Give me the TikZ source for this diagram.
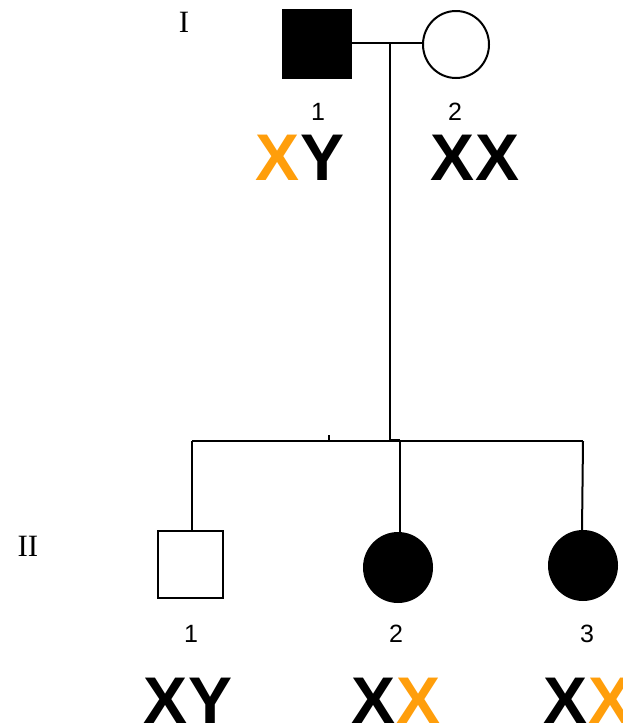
\documentclass[tikz,border=0pt]{standalone}
\usepackage{fontspec}
\setmainfont{Liberation Sans}
\newfontfamily\romanfont{Liberation Serif}
\definecolor{orangeX}{RGB}{255,158,11}
\tikzset{
  line/.style={line width=2pt, black},
  male/.style={rectangle, draw=black, line width=2pt, inner sep=0pt},
  female/.style={ellipse, draw=black, line width=2pt, inner sep=0pt},
  num/.style={inner sep=0pt, font=\fontsize{25}{25}\selectfont},
  geno/.style={inner sep=0pt, font=\fontsize{66}{66}\selectfont\bfseries},
  gen/.style={inner sep=0pt, font=\romanfont\fontsize{31}{31}\selectfont}
}
\usetikzlibrary{shapes.geometric}
\begin{document}
\begin{tikzpicture}[x=1pt,y=-1pt]
\useasboundingbox[fill=white] (0,0) rectangle (623,726);
% generation labels
\node[gen] (gI) at (184,22) {I};
\node[gen] (gII) at (28,546) {II};
% generation I
\node[male, fill=black, minimum width=68pt, minimum height=68pt] (i1) at (317,44) {};
\node[female, fill=white, minimum width=66pt, minimum height=67pt] (i2) at (456,44.5) {};
\draw[line] (i1.east |- 0,43) -- (i2.west |- 0,43);
\coordinate (m) at (390,43);
\coordinate (s) at (390,440);
\draw[line] (m) -- (s);
% sibship
\coordinate (sl) at (192,441);
\coordinate (sr) at (583,441);
\draw[line] (sl) -- (sr);
\coordinate (tk) at (329,435);
\draw[line] (tk) -- (tk |- sl);
\draw[line] (s) -- (400,440);
% generation II
\node[male, fill=white, minimum width=65pt, minimum height=67pt] (ii1) at (190.5,564) {};
\node[female, fill=black, minimum width=68pt, minimum height=69pt] (ii2) at (398,567.5) {};
\node[female, fill=black, minimum width=68pt, minimum height=69pt] (ii3) at (583,565.5) {};
\draw[line] (sl) -- (sl |- ii1.north);
\coordinate (c2) at (400,441);
\draw[line] (c2) -- (c2 |- ii2.north);
\draw[line] (sr) -- (582,531);
% numbers
\node[num] (n11) at (318,112) {1};
\node[num] (n12) at (455,112) {2};
\node[num] (n21) at (191,634) {1};
\node[num] (n22) at (396,634) {2};
\node[num] (n23) at (587,634) {3};
% genotypes
\node[geno] (g11) at (300,157.5) {\textcolor{orangeX}{X}Y};
\node[geno] (g12) at (475,157.5) {XX};
\node[geno] (g21) at (188,701) {XY};
\node[geno] (g22) at (396,701) {X\textcolor{orangeX}{X}};
\node[geno] (g23) at (588,701) {X\textcolor{orangeX}{X}};
\end{tikzpicture}
\end{document}
